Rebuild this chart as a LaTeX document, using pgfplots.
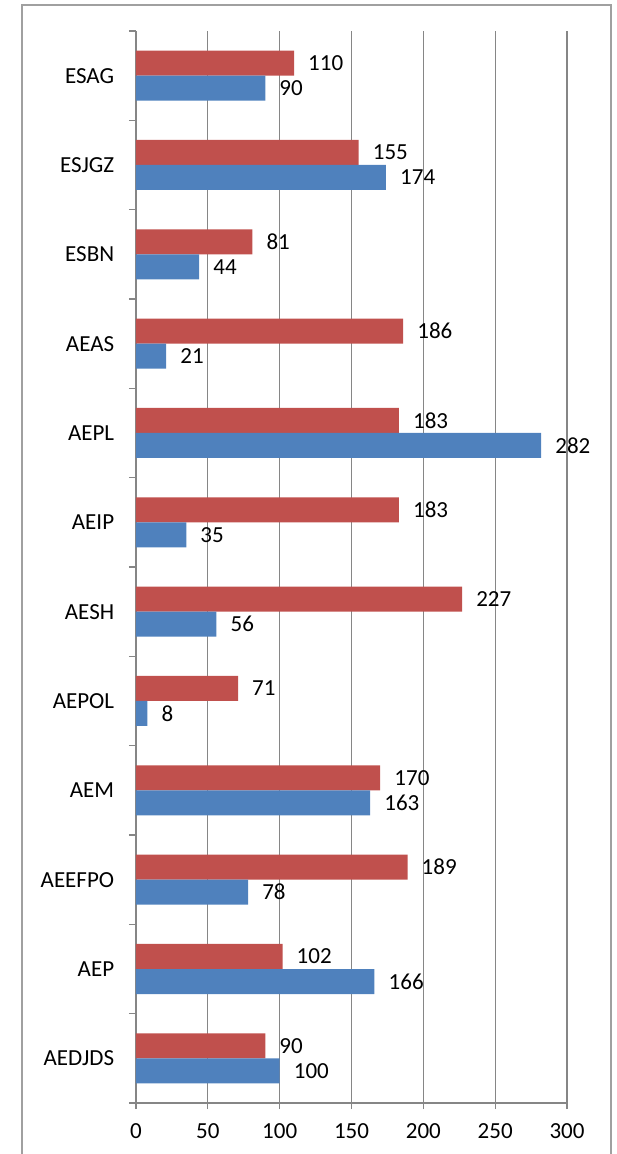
\documentclass[border=0pt]{standalone}
\usepackage{pgfplots}
\pgfplotsset{compat=1.18}
\usepackage{fontspec}
\setmainfont{Carlito}

\definecolor{barred}{HTML}{C0504D}
\definecolor{barblue}{HTML}{4F81BD}
\definecolor{gridgray}{HTML}{868686}
\definecolor{framegray}{HTML}{A0A0A0}

\begin{document}
\fontsize{23}{26}\selectfont
\begin{tikzpicture}
% page = 616 x 1154, axis box 431 x 1072 at (136,1103) from top-left
\path[use as bounding box] (-136pt,-51pt) rectangle (480pt,1103pt);
\draw[framegray, line width=1.6pt] (-114pt,-70pt) rectangle (475pt,1098pt);
\begin{axis}[
    at={(0pt,0pt)}, anchor=south west,
    scale only axis,
    width=431pt, height=1072pt,
    xbar, bar width=25pt,
    xmin=0, xmax=300,
    ymin=-0.5, ymax=11.5,
    axis x line*=bottom, axis y line*=left,
    axis line style={gridgray, line width=1.3pt},
    xtick={0,50,...,300},
    xmajorgrids=true,
    grid style={gridgray, line width=1.3pt},
    ytick={0,...,11},
    yticklabels={AEDJDS,AEP,AEEFPO,AEM,AEPOL,AESH,AEIP,AEPL,AEAS,ESBN,ESJGZ,ESAG},
    minor ytick={-0.5,0.5,...,11.5},
    major tick length=0pt,
    minor tick length=7pt,
    tick align=outside,
    tick style={gridgray, line width=1.3pt},
    extra x ticks={0,50,...,300},
    extra x tick labels={},
    extra x tick style={major tick length=6pt, grid=none},
    xticklabel style={yshift=-13pt},
    yticklabel style={xshift=-14pt},
    /pgf/number format/assume math mode=true,
    every node near coord/.append style={anchor=west, inner sep=0pt, xshift=14pt, text=black},
    nodes near coords,
]
\addplot[fill=barred, draw=none, bar shift=12.5pt] coordinates {
    (90,0) (102,1) (189,2) (170,3) (71,4) (227,5)
    (183,6) (183,7) (186,8) (81,9) (155,10) (110,11)
};
\addplot[fill=barblue, draw=none, bar shift=-12.5pt] coordinates {
    (100,0) (166,1) (78,2) (163,3) (8,4) (56,5)
    (35,6) (282,7) (21,8) (44,9) (174,10) (90,11)
};
\end{axis}
\end{tikzpicture}
\end{document}
